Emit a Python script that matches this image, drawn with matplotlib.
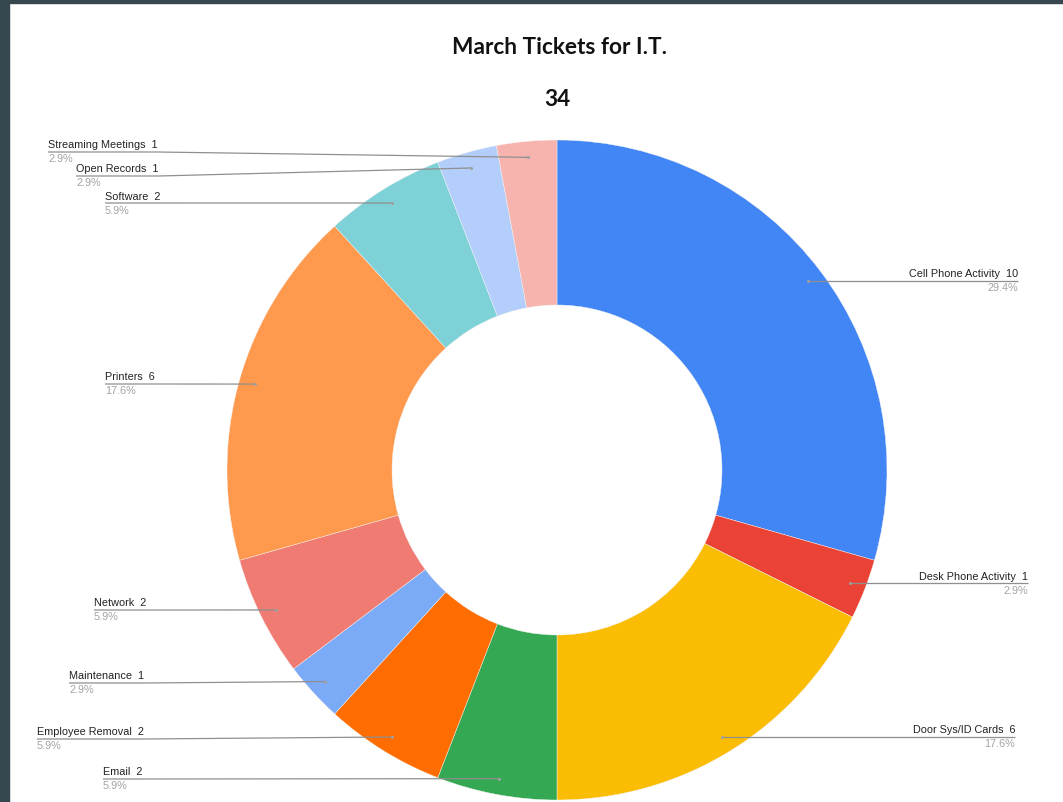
import numpy as np
import matplotlib
matplotlib.use("Agg")
import matplotlib.pyplot as plt
from matplotlib.patches import Rectangle

# ---- data ----
categories = ["Cell Phone Activity", "Desk Phone Activity", "Door Sys/ID Cards", "Email",
              "Employee Removal", "Maintenance", "Network", "Printers", "Software",
              "Open Records", "Streaming Meetings"]
counts = [10, 1, 6, 2, 2, 1, 2, 6, 2, 1, 1]
colors = ["#4285F4", "#EA4335", "#FBBC04", "#34A853", "#FF6D01", "#7BAAF7",
          "#F07B72", "#FF994D", "#7ED1D7", "#B3CEFB", "#F7B4AE"]
title_text = "March Tickets for I.T."

# ---- layout (pixel coordinates, y measured from top) ----
W, H = 1063, 803
cx, cy_px, R = 557, 471, 330
hole = 0.5
# label anchor: side, text x (left edge for left side, right edge for right side), line y
label_layout = {
    "Cell Phone Activity": ("r", 1018, 282),
    "Desk Phone Activity": ("r", 1028, 585),
    "Door Sys/ID Cards": ("r", 1015, 740),
    "Email": ("l", 103, 780),
    "Employee Removal": ("l", 37, 740),
    "Maintenance": ("l", 69, 684),
    "Network": ("l", 94, 611),
    "Printers": ("l", 105, 385),
    "Software": ("l", 105, 204),
    "Open Records": ("l", 76, 177),
    "Streaming Meetings": ("l", 48, 153),
}

def Y(y):
    return H - y

fig = plt.figure(figsize=(W / 100, H / 100), dpi=100)
fig.patch.set_facecolor("white")
ax = fig.add_axes([0, 0, 1, 1])

total = sum(counts)
wedges, _ = ax.pie(counts, colors=colors, startangle=90, counterclock=False,
                   radius=R, center=(cx, Y(cy_px)),
                   wedgeprops=dict(width=R * (1 - hole), edgecolor="#f4f4f4", linewidth=0.3))
ax.set_xlim(0, W)
ax.set_ylim(0, H)
ax.set_aspect("equal")
ax.axis("off")

# dark frame strips
fig.patches.append(Rectangle((0, 0), 9 / W, 1, transform=fig.transFigure,
                             color="#37474F", zorder=10))
fig.patches.append(Rectangle((0, 1 - 4 / H), 1, 4 / H, transform=fig.transFigure,
                             color="#37474F", zorder=10))

# title + total
fig.text(cx / W + 3 / W, 1 - 48 / H, title_text, ha="center", va="center",
         fontsize=16.3, fontweight="bold", family="Lato", color="#111111")
fig.text(cx / W, 1 - 100 / H, str(total), ha="center", va="center",
         fontsize=16.3, fontweight="bold", family="Lato", color="#111111")

fig.canvas.draw()
renderer = fig.canvas.get_renderer()

line_col = "#8f8f8f"
r_dot = 314
cum = 0
for cat, v in zip(categories, counts):
    mid = (cum + v / 2) / total * 2 * np.pi
    cum += v
    dx = cx + r_dot * np.sin(mid)
    dy = cy_px - r_dot * np.cos(mid)
    side, tx, ly = label_layout[cat]
    if side == "r":
        ly = dy
    ha = "left" if side == "l" else "right"
    t = ax.text(tx, Y(ly) + 2.5, f"{cat}  {v}", ha=ha, va="bottom", fontsize=7.8,
                family="Liberation Sans", color="#222222")
    ax.text(tx, Y(ly) - 1.5, f"{100 * v / total:.1f}%", ha=ha, va="top", fontsize=7.8,
            family="Liberation Sans", color="#a3a3a3")
    bb = t.get_window_extent(renderer=renderer)
    x_end = bb.x1 if side == "l" else bb.x0  # pixels equal data units here
    ax.plot([tx, x_end, dx], [Y(ly), Y(ly), Y(dy)], color=line_col, lw=0.9,
            solid_capstyle="butt", zorder=5)
    ax.plot([dx], [Y(dy)], "o", ms=2.2, color="#a0a0a0", mec="none", zorder=6)

fig.savefig("out.png", dpi=100, facecolor="white")
